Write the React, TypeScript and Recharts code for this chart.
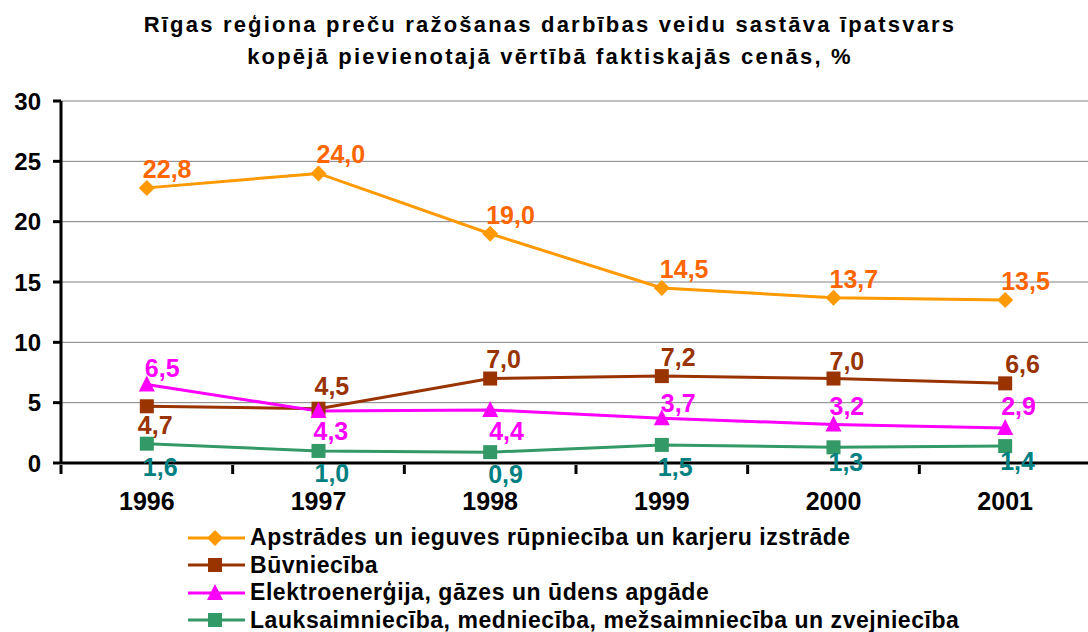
import React from 'react';
import { LineChart, Line, XAxis, YAxis, CartesianGrid, Legend, LabelList } from 'recharts';

const years = ['1996', '1997', '1998', '1999', '2000', '2001'];
const apstrades = [22.8, 24.0, 19.0, 14.5, 13.7, 13.5];
const buvnieciba = [4.7, 4.5, 7.0, 7.2, 7.0, 6.6];
const elektro = [6.5, 4.3, 4.4, 3.7, 3.2, 2.9];
const lauksaimnieciba = [1.6, 1.0, 0.9, 1.5, 1.3, 1.4];
const yTicks = [0, 5, 10, 15, 20, 25, 30];
const seriesNames = [
  'Apstrādes un ieguves rūpniecība un karjeru izstrāde',
  'Būvniecība',
  'Elektroenerģija, gāzes un ūdens apgāde',
  'Lauksaimniecība, medniecība, mežsaimniecība un zvejniecība',
];
const titleLines = [
  'Rīgas reģiona preču ražošanas darbības veidu sastāva īpatsvars',
  'kopējā pievienotajā vērtībā faktiskajās cenās, %',
];

const data = years.map((year, i) => ({
  year,
  a: apstrades[i],
  b: buvnieciba[i],
  e: elektro[i],
  l: lauksaimnieciba[i],
}));

const FONT = '"Liberation Sans", Arial, sans-serif';
const W = 1088;
const H = 632;
const PLOT_LEFT = 61;
const RIGHT_MARGIN = -3;
const BAND = (W - RIGHT_MARGIN - PLOT_LEFT) / years.length;

type Shape = 'diamond' | 'square' | 'triangle';

const series = [
  { key: 'a', name: seriesNames[0], line: '#FF9900', label: '#FF6600', shape: 'diamond' as Shape,
    dy: [-19, -19, -19, -19, -19, -19], dx: [-4, -2, -4, -2, -4, -4] },
  { key: 'b', name: seriesNames[1], line: '#993300', label: '#993300', shape: 'square' as Shape,
    dy: [19, -23, -20, -19, -18, -19], dx: [-9, -4, -4, -1, -4, 0] },
  { key: 'e', name: seriesNames[2], line: '#FF00FF', label: '#FF00FF', shape: 'triangle' as Shape,
    dy: [-17, 20, 21, -15, -18, -22], dx: [-2, -5, -1, -1, -4, -4] },
  { key: 'l', name: seriesNames[3], line: '#339966', label: '#008080', shape: 'square' as Shape,
    dy: [23, 22, 22, 22, 15, 15], dx: [-4, -4, -2, -4, -5, -5] },
];

function Marker({ cx, cy, shape, color }: { cx: number; cy: number; shape: Shape; color: string }) {
  if (cx == null || cy == null) return null;
  if (shape === 'diamond') {
    const r = 8;
    return <polygon points={`${cx},${cy - r} ${cx + r},${cy} ${cx},${cy + r} ${cx - r},${cy}`} fill={color} />;
  }
  if (shape === 'triangle') {
    const r = 8;
    return <polygon points={`${cx},${cy - r - 1} ${cx + r},${cy + r - 1} ${cx - r},${cy + r - 1}`} fill={color} />;
  }
  const s = 7;
  return <rect x={cx - s} y={cy - s} width={2 * s} height={2 * s} fill={color} />;
}

function XTick(props: any) {
  const { x, y, payload, index } = props;
  const axisY = y;
  return (
    <g>
      <line x1={x - BAND / 2} x2={x - BAND / 2} y1={axisY} y2={axisY + 9} stroke="#000" strokeWidth={3} />
      {index === years.length - 1 && (
        <line x1={x + BAND / 2} x2={x + BAND / 2} y1={axisY} y2={axisY + 9} stroke="#000" strokeWidth={3} />
      )}
      <text x={x} y={axisY + 45} textAnchor="middle" fontFamily={FONT} fontWeight="bold" fontSize={25} fill="#000">
        {payload.value}
      </text>
    </g>
  );
}

function LegendContent() {
  return (
    <div style={{ fontFamily: FONT, fontWeight: 'bold', fontSize: 23, letterSpacing: 0.55, color: '#000' }}>
      {series.map((s) => (
        <div key={s.key} style={{ display: 'flex', alignItems: 'center', height: 27.5, whiteSpace: 'nowrap' }}>
          <svg width={58} height={22} style={{ marginRight: 4 }}>
            <line x1={0} x2={57} y1={11} y2={11} stroke={s.line} strokeWidth={3} />
            <Marker cx={27} cy={11} shape={s.shape} color={s.line} />
          </svg>
          <span>{s.name}</span>
        </div>
      ))}
    </div>
  );
}

export default function App() {
  return (
    <div style={{ position: 'absolute', left: 0, top: 0, width: W, height: H, background: '#fff', overflow: 'hidden' }}>
      <div style={{ position: 'absolute', left: 0, top: 9, width: 1100, textAlign: 'center', fontFamily: FONT, fontWeight: 'bold', fontSize: 22, lineHeight: '32px', letterSpacing: 2.2, color: '#000' }}>
        {titleLines.map((t) => (
          <div key={t}>{t}</div>
        ))}
      </div>
      <LineChart width={W} height={H} data={data} margin={{ top: 101, right: RIGHT_MARGIN, bottom: 0, left: 0 }}>
        <CartesianGrid horizontal vertical={false} stroke="#808080" strokeWidth={1} />
        <XAxis
          dataKey="year"
          padding={{ left: BAND / 2, right: BAND / 2 }}
          axisLine={{ stroke: '#000', strokeWidth: 3 }}
          tickLine={false}
          tickSize={0}
          tick={<XTick />}
          interval={0}
          height={169}
        />
        <YAxis
          width={PLOT_LEFT}
          domain={[0, 30]}
          ticks={yTicks}
          interval={0}
          axisLine={{ stroke: '#000', strokeWidth: 3 }}
          tickLine={{ stroke: '#000', strokeWidth: 3 }}
          tickSize={8}
          tickMargin={12}
          tick={{ fontFamily: FONT, fontWeight: 'bold', fontSize: 24, fill: '#000' }}
        />
        <Legend
          layout="vertical"
          align="center"
          verticalAlign="middle"
          wrapperStyle={{ left: 188, top: 524, width: 880, height: 108 }}
          content={() => <LegendContent />}
        />
        {series.map((s) => (
          <Line
            key={s.key}
            dataKey={s.key}
            name={s.name}
            stroke={s.line}
            strokeWidth={3}
            isAnimationActive={false}
            dot={(p: any) => <Marker key={`${s.key}-${p.index}`} cx={p.cx} cy={p.cy} shape={s.shape} color={s.line} />}
            activeDot={false}
          >
            <LabelList
              dataKey={s.key}
              content={(p: any) => {
                const i = p.index;
                const v = Number(p.value);
                return (
                  <text
                    x={p.x + s.dx[i]}
                    y={p.y + s.dy[i]}
                    dominantBaseline="central"
                    textAnchor="start"
                    fontFamily={FONT}
                    fontWeight="bold"
                    fontSize={25}
                    fill={s.label}
                  >
                    {v.toFixed(1).replace('.', ',')}
                  </text>
                );
              }}
            />
          </Line>
        ))}
      </LineChart>
    </div>
  );
}
